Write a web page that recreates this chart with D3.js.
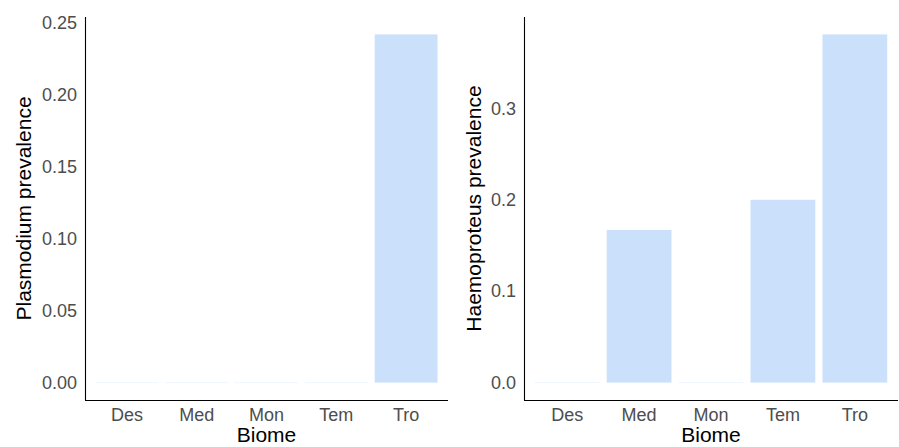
<!DOCTYPE html>
<html>
<head>
<meta charset="utf-8">
<script src="https://cdn.jsdelivr.net/npm/d3@7"></script>
<style>
  body { margin: 0; background: #fff; }
  text { font-family: "Liberation Sans", Arial, sans-serif; }
</style>
</head>
<body>
<script>
var biomes = ["Des", "Med", "Mon", "Tem", "Tro"]
var plasmodium = [0, 0, 0, 0, 0.242]
var haemoproteus = [0, 0.167, 0, 0.2, 0.381]
var plasTicks = [0, 0.05, 0.10, 0.15, 0.20, 0.25]
var haemTicks = [0, 0.1, 0.2, 0.3]

var svg = d3.select("body").append("svg")
  .attr("width", 899)
  .attr("height", 447)

function panel(values, ticks, fmt, title, left, right, titleX) {
  var top = 17, bottom = 400
  var max = d3.max(values)
  var pad = max * 0.05
  var y = d3.scaleLinear().domain([-pad, max + pad]).range([bottom, top])
  var x = d3.scaleBand().domain(biomes).range([left, right])
    .paddingInner(0.1).paddingOuter(0.15)

  var g = svg.append("g")

  // bars (zero values leave only a faint sliver, as in the original)
  g.selectAll("rect.bar")
    .data(values)
    .enter()
    .append("rect")
    .attr("class", "bar")
    .attr("x", function(d, i) { return x(biomes[i]) })
    .attr("width", x.bandwidth())
    .attr("y", function(d) { return d > 0 ? y(d) : y(0) - 0.5 })
    .attr("height", function(d) { return d > 0 ? y(0) - y(d) : 1 })
    .style("fill", "#cae0fb")
    .style("opacity", function(d) { return d > 0 ? 1 : 0.3 })

  // y axis
  var ya = g.append("g")
    .attr("transform", "translate(" + left + ",0)")
    .call(d3.axisLeft(y).tickValues(ticks).tickFormat(fmt).tickSize(0).tickPadding(8))
  ya.select(".domain").attr("d", "M0.5," + top + "V" + bottom).attr("stroke", "#000").attr("stroke-width", 1.1)
  ya.selectAll("text").style("font-size", "18px").style("fill", "#4d4d4d")
    .style("font-family", "Liberation Sans, Arial, sans-serif")

  // x axis
  var xa = g.append("g")
    .attr("transform", "translate(0," + bottom + ")")
    .call(d3.axisBottom(x).tickSize(0).tickPadding(8))
  xa.select(".domain").attr("d", "M" + left + ",0.5H" + right).attr("stroke", "#000").attr("stroke-width", 1.1)
  xa.selectAll("text").style("font-size", "18px").style("fill", "#4d4d4d")
    .style("font-family", "Liberation Sans, Arial, sans-serif")

  g.append("text")
    .attr("x", (left + right) / 2)
    .attr("y", 442)
    .attr("text-anchor", "middle")
    .style("font-size", "21px")
    .style("fill", "#000")
    .text("Biome")

  g.append("text")
    .attr("transform", "translate(" + titleX + "," + ((top + bottom) / 2) + ") rotate(-90)")
    .attr("text-anchor", "middle")
    .style("font-size", "21px")
    .style("fill", "#000")
    .text(title)
}

panel(plasmodium, plasTicks, d3.format(".2f"), "Plasmodium prevalence", 85, 448, 31)
panel(haemoproteus, haemTicks, d3.format(".1f"), "Haemoproteus prevalence", 524, 898, 481)
</script>
</body>
</html>
